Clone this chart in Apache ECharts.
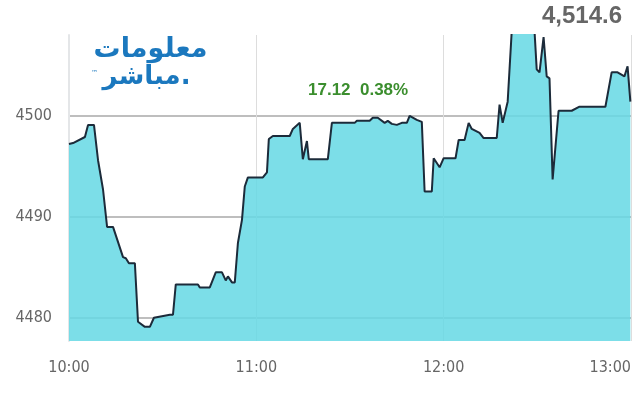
<!DOCTYPE html>
<html><head><meta charset="utf-8">
<script src="https://cdn.jsdelivr.net/npm/echarts@6/dist/echarts.min.js"></script>
<style>html,body{margin:0;padding:0;background:#fff}#c{width:640px;height:400px}</style>
</head><body><div id="c"></div>
<script>
// minutes after 10:00
const minutes = [0,1.3,5.1,6.1,8.0,9.3,10.9,12.2,14.1,17.3,18.2,19.2,21.1,22.1,24.3,25.9,27.2,32.3,33.3,34.2,41.3,41.9,45.1,47.0,49.0,50.2,50.9,52.2,53.1,54.1,55.4,56.3,57.3,62.1,63.4,64.0,65.3,70.7,71.7,73.9,74.9,76.2,76.8,82.9,84.2,91.5,92.2,96.3,97.3,98.9,101.1,102.1,103.4,105.0,106.6,108.2,109.1,111.4,113.0,113.9,116.2,116.8,118.7,120.0,123.8,124.8,126.7,128.0,129.0,131.5,132.8,137.0,137.9,138.9,140.5,142.1,148.8,149.8,150.7,152.0,153.0,153.9,154.9,156.8,161.0,163.5,171.8,173.8,175.7,177.9,178.9,179.8];
const values = [4497.2,4497.3,4497.9,4499.1,4499.1,4495.6,4492.7,4489.0,4489.0,4486.0,4485.9,4485.4,4485.4,4479.6,4479.1,4479.1,4480.0,4480.3,4480.3,4483.3,4483.3,4483.0,4483.0,4484.5,4484.5,4483.7,4484.1,4483.5,4483.5,4487.4,4489.7,4493.0,4493.9,4493.9,4494.4,4497.7,4498.0,4498.0,4498.7,4499.3,4495.7,4497.5,4495.7,4495.7,4499.3,4499.3,4499.5,4499.5,4499.8,4499.8,4499.3,4499.5,4499.2,4499.1,4499.3,4499.3,4500.0,4499.6,4499.4,4492.5,4492.5,4495.8,4494.9,4495.8,4495.8,4497.6,4497.6,4499.3,4498.7,4498.3,4497.8,4497.8,4501.1,4499.3,4501.4,4510.0,4510.0,4504.6,4504.3,4507.8,4503.9,4503.7,4493.7,4500.5,4500.5,4500.9,4500.9,4504.3,4504.3,4503.9,4504.9,4501.4];
const yTicks = [4480, 4490, 4500];
const lastValue = '4,514.6';
const change = '17.12';
const changePct = '0.38%';
const logoLine1 = 'معلومات';
const logoLine2 = 'مباشر.';

const chart = echarts.init(document.getElementById('c'));
const labelFont = '"DejaVu Sans Condensed", "Liberation Sans Narrow", sans-serif';
chart.setOption({
  animation: false,
  grid: {left: 69, right: 9, top: 35, bottom: 59},
  xAxis: {
    type: 'value', min: 0, max: 180, interval: 60,
    axisLine: {show: false}, axisTick: {show: false},
    splitLine: {show: true, lineStyle: {color: '#dddddd', width: 1}},
    axisLabel: {
      color: '#666', fontFamily: labelFont, fontSize: 16, margin: 19,
      alignMaxLabel: 'right',
      formatter: v => (10 + v / 60) + ':00'
    }
  },
  yAxis: {
    type: 'value', min: 4477.7, max: 4508.0,
    axisLine: {show: true, lineStyle: {color: '#e4e6e8', width: 2}},
    axisTick: {show: false, customValues: yTicks},
    axisLabel: {customValues: yTicks, color: '#666', fontFamily: labelFont, fontSize: 16, margin: 17,
      formatter: v => String(v)},
    splitLine: {show: true, lineStyle: {color: '#a8a8a8', width: 1.5}}
  },
  series: [{
    type: 'line',
    data: minutes.map((m, i) => [m, values[i]]),
    showSymbol: false,
    clip: true,
    lineStyle: {color: '#1c2b3a', width: 2},
    areaStyle: {color: 'rgba(102,216,228,0.86)', opacity: 1, origin: 'start'}
  }],
  graphic: [
    {type: 'text', right: 18, top: 4, style: {text: lastValue, fill: '#666', font: 'bold 24px "Liberation Sans", Arial, sans-serif'}},
    {type: 'text', left: 308, top: 82, style: {text: change + '  ' + changePct, fill: '#3b8e2e', font: 'bold 17px "Liberation Sans", Arial, sans-serif'}},
    {type: 'text', left: 93, top: 36, style: {text: logoLine1, fill: '#1b78be', font: 'bold 27px "DejaVu Sans", sans-serif', stroke: '#fff', lineWidth: 1}},
    {type: 'text', left: 102, top: 64, style: {text: logoLine2, fill: '#1b78be', font: 'bold 26px "DejaVu Sans", sans-serif', stroke: '#fff', lineWidth: 1}},
    {type: 'text', left: 91, top: 70, style: {text: '™', fill: '#1b78be', font: '7px "DejaVu Sans", sans-serif'}}
  ]
});
</script></body></html>
